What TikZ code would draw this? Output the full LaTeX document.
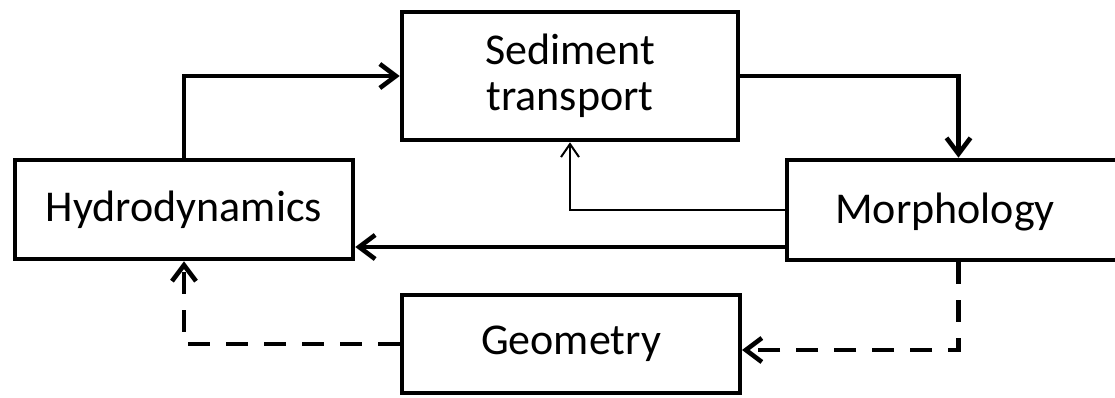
\documentclass[tikz,border=0pt]{standalone}
\usepackage{fontspec}
\setmainfont{Carlito}
\usetikzlibrary{arrows.meta}
\begin{document}
\begin{tikzpicture}[x=1pt,y=-1pt,
  box/.style={draw, line width=4.6pt, rectangle, inner sep=0pt, align=center,
    font=\fontsize{44}{50}\selectfont},
  lbl/.style={inner sep=0pt, font=\fontsize{44}{50}\selectfont},
  arr/.style={line width=4.6pt, -{Straight Barb[length=16pt,width=24pt,line width=4.6pt]}},
  thinarr/.style={line width=2pt, -{Straight Barb[length=13pt,width=18pt,line width=2pt]}},
  dasharr/.style={arr, dash pattern=on 22pt off 16pt}]
\useasboundingbox (0,0) rectangle (1115,398);
\begin{scope}
\clip (0,0) rectangle (1115,398);
\node[box, minimum width=336pt, minimum height=128pt] (sed) at (570,76) {Sediment\\[-4pt]transport};
\node[box, minimum width=338pt, minimum height=99pt] (hydro) at (184,209.5) {Hydrodynamics};
\node[box, minimum width=343pt, minimum height=100pt] (morph) at (958.5,210) {};
\node[lbl] (morphlbl) at (945,212) {Morphology};
\node[box, minimum width=338pt, minimum height=98pt] (geo) at (571,344) {Geometry};
\end{scope}
\coordinate (m2) at (785,247);
\coordinate (g2) at (742,350);
\draw[arr] (hydro.north) |- (sed.west);
\draw[arr] (sed.east) -| (morph.north);
\draw[thinarr] (morph.west) -| (sed.south);
\draw[arr] (m2) -- (hydro.east |- m2);
\draw[dasharr] (morph.south) |- (g2);
\draw[dasharr] (geo.west) -| (hydro.south);
\end{tikzpicture}
\end{document}
